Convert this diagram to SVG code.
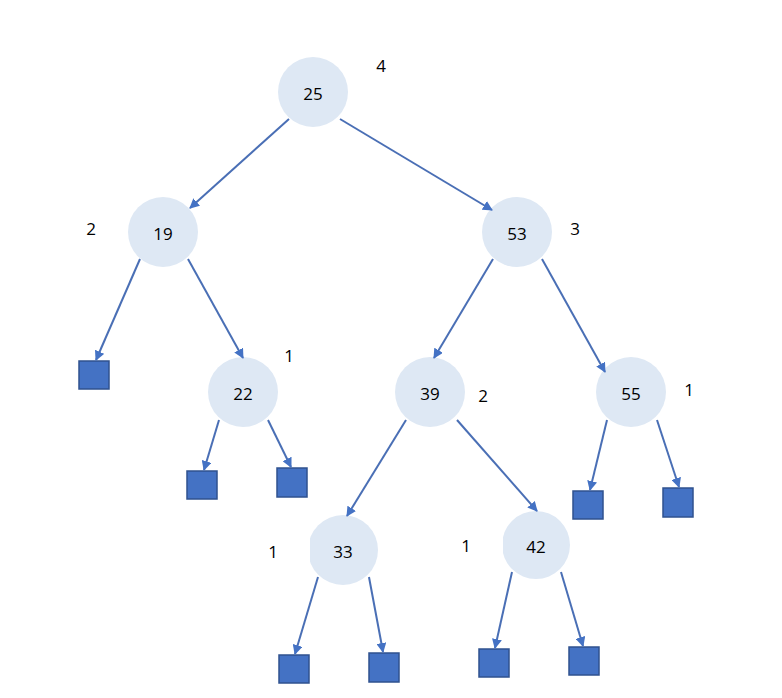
<svg xmlns="http://www.w3.org/2000/svg" width="782" height="698" viewBox="0 0 782 698">
<defs>
<marker id="ah" viewBox="0 0 10 10" refX="9" refY="5" markerWidth="5" markerHeight="5" orient="auto" markerUnits="strokeWidth">
<path d="M0,0 L10,5 L0,10 z" fill="#4472C4"/>
</marker>
<style>
.n{fill:#DEE8F4}
.leaf{fill:#4472C4;stroke:#2F528F;stroke-width:1.5}
.t{font-family:"Open Sans","Liberation Sans",sans-serif;font-size:17px;fill:#000;text-anchor:middle;dominant-baseline:central}
.e{stroke:#4A6FB5;stroke-width:2;fill:none;marker-end:url(#ah)}
</style>
</defs>
<rect width="782" height="698" fill="#fff"/>
<g id="n25"><circle class="n" cx="313" cy="92" r="35"/><text class="t" x="313" y="93">25</text></g>
<g id="n19"><circle class="n" cx="163" cy="232" r="35"/><text class="t" x="163" y="233">19</text></g>
<g id="n53"><circle class="n" cx="517" cy="232" r="35"/><text class="t" x="517" y="233">53</text></g>
<g id="n22"><circle class="n" cx="243" cy="392" r="35"/><text class="t" x="243" y="393">22</text></g>
<g id="n39"><circle class="n" cx="430" cy="392" r="35"/><text class="t" x="430" y="393">39</text></g>
<g id="n55"><circle class="n" cx="631" cy="392" r="35"/><text class="t" x="631" y="393">55</text></g>
<g id="n33"><circle class="n" cx="343" cy="550" r="35"/><rect x="262" y="530" width="48" height="40" fill="#fff"/><text class="t" x="343" y="551">33</text></g>
<g id="n42"><circle class="n" cx="536" cy="545" r="34"/><rect x="455" y="525" width="48" height="40" fill="#fff"/><text class="t" x="536" y="546">42</text></g>
<g id="leaves">
<rect class="leaf" x="79" y="361" width="30" height="28"/>
<rect class="leaf" x="187" y="471" width="30" height="28"/>
<rect class="leaf" x="277" y="468" width="30" height="29"/>
<rect class="leaf" x="573" y="491" width="30" height="28"/>
<rect class="leaf" x="663" y="488" width="30" height="29"/>
<rect class="leaf" x="279" y="655" width="30" height="28"/>
<rect class="leaf" x="369" y="653" width="30" height="29"/>
<rect class="leaf" x="479" y="649" width="30" height="28"/>
<rect class="leaf" x="569" y="647" width="30" height="28"/>
</g>
<g id="labels">
<text class="t" x="381" y="65">4</text>
<text class="t" x="91" y="228">2</text>
<text class="t" x="575" y="228">3</text>
<text class="t" x="289" y="355">1</text>
<text class="t" x="483" y="395">2</text>
<text class="t" x="689" y="389">1</text>
<text class="t" x="273" y="551">1</text>
<text class="t" x="466" y="545">1</text>
</g>
<g id="edges">
<line class="e" x1="289" y1="119" x2="190" y2="208"/>
<line class="e" x1="340" y1="119" x2="492" y2="210"/>
<line class="e" x1="140" y1="259" x2="96" y2="360"/>
<line class="e" x1="188" y1="259" x2="243" y2="358"/>
<line class="e" x1="493" y1="259" x2="434" y2="358"/>
<line class="e" x1="542" y1="259" x2="605" y2="372"/>
<line class="e" x1="219" y1="420" x2="204" y2="470"/>
<line class="e" x1="268" y1="420" x2="291" y2="467"/>
<line class="e" x1="406" y1="420" x2="347" y2="516"/>
<line class="e" x1="457" y1="420" x2="537" y2="511"/>
<line class="e" x1="607" y1="420" x2="590" y2="490"/>
<line class="e" x1="657" y1="420" x2="679" y2="487"/>
<line class="e" x1="318" y1="577" x2="295" y2="654"/>
<line class="e" x1="369" y1="577" x2="383" y2="652"/>
<line class="e" x1="512" y1="572" x2="495" y2="648"/>
<line class="e" x1="561" y1="572" x2="583" y2="646"/>
</g>
</svg>
